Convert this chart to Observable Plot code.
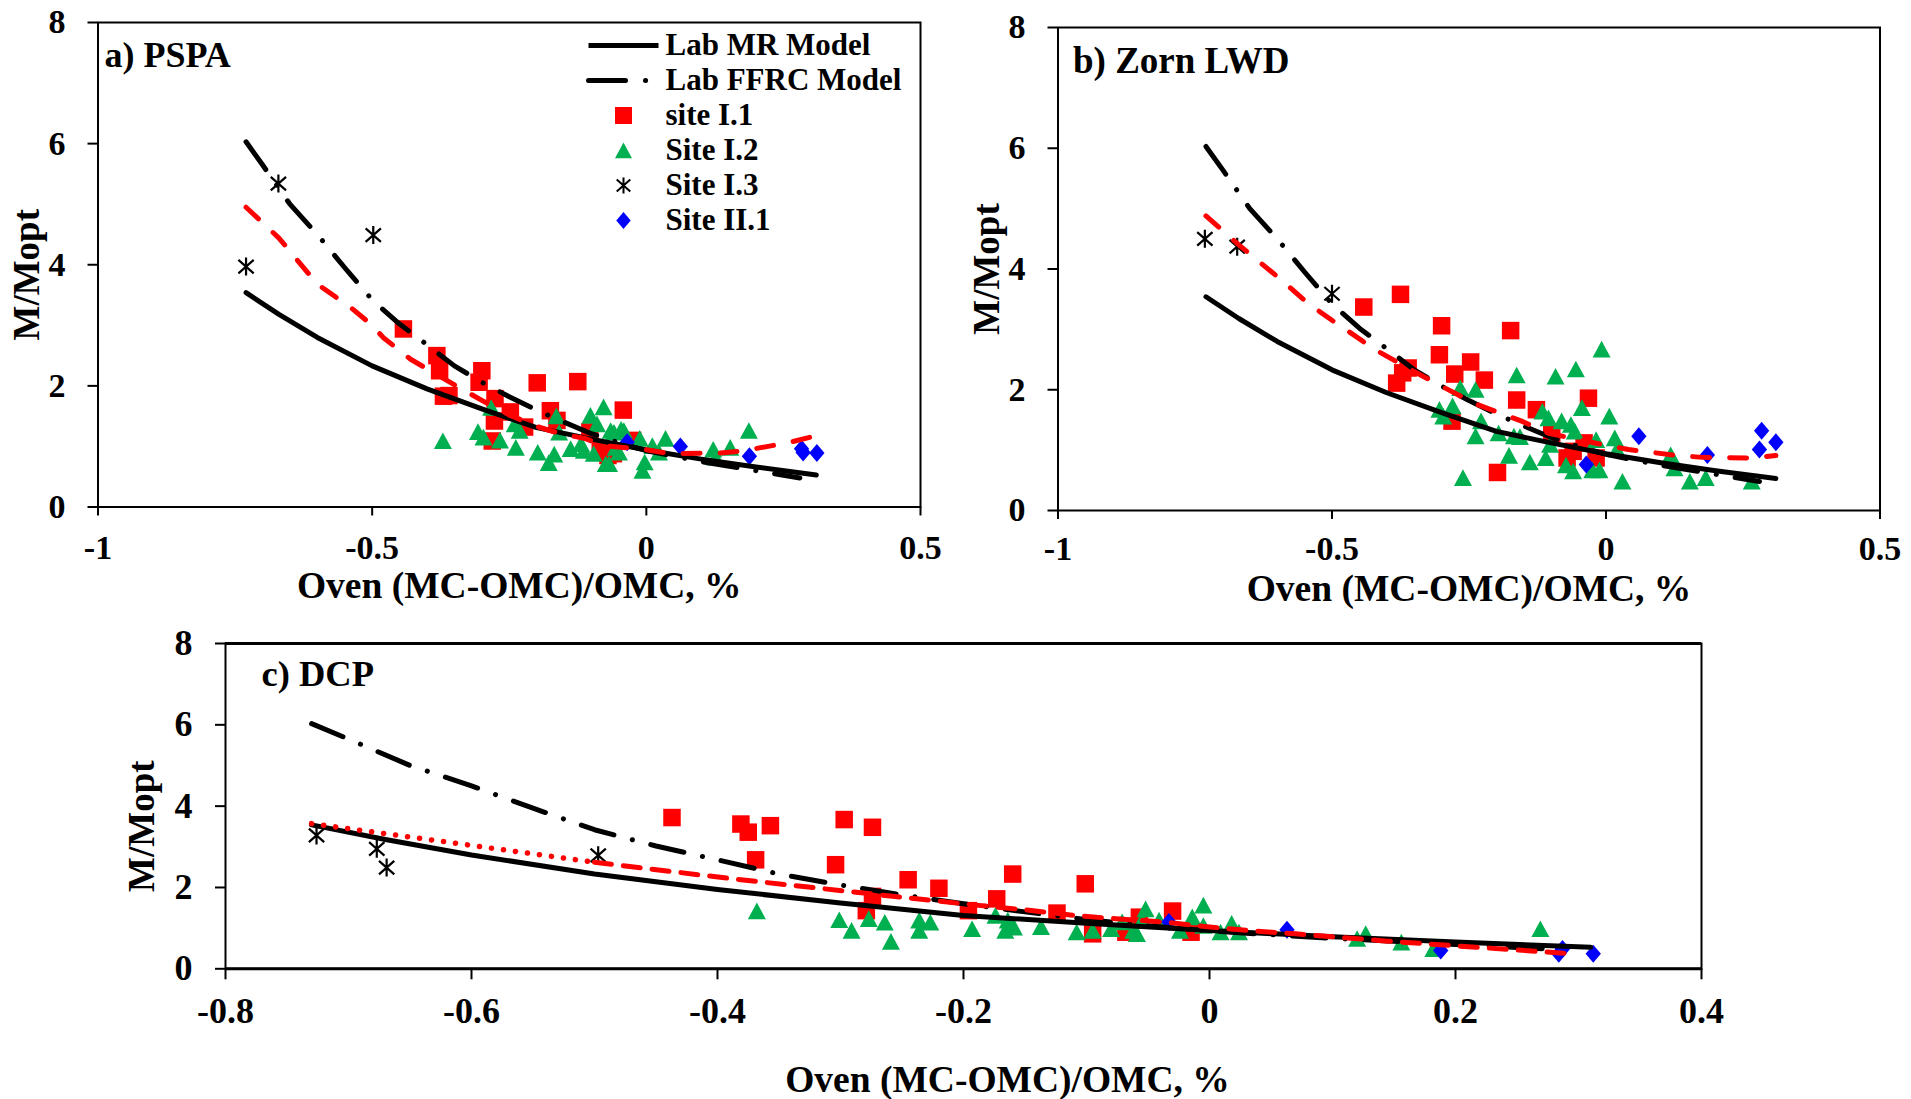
<!DOCTYPE html>
<html>
<head>
<meta charset="utf-8">
<script src="https://cdn.jsdelivr.net/npm/d3@7"></script>
<script src="https://cdn.jsdelivr.net/npm/@observablehq/plot@0.6"></script>
<style>
  body { margin: 0; background: #fff; }
  #root { position: relative; width: 1911px; height: 1099px; overflow: hidden; background: #fff; }
  .panel { position: absolute; }
  .panel svg { background: transparent !important; max-width: none !important; overflow: visible; }
</style>
</head>
<body>
<div id="root"></div>
<script>
// ---------------- DATA ----------------
const yTicks = [0, 2, 4, 6, 8];
const xTicksAB = [-1, -0.5, 0, 0.5];
const xTicksC = [-0.8, -0.6, -0.4, -0.2, 0, 0.2, 0.4];
const panelTitles = ["a) PSPA", "b) Zorn LWD", "c) DCP"];
const xAxisTitle = "Oven (MC-OMC)/OMC, %";
const yAxisTitle = "M/Mopt";
const legendItems = ["Lab MR Model", "Lab FFRC Model", "site I.1", "Site I.2", "Site I.3", "Site II.1"];

// Lab models (same in all panels)
const mrModel = [[-0.73,3.54],[-0.67,3.18],[-0.6,2.8],[-0.5,2.33],[-0.4,1.95],[-0.3,1.62],[-0.2,1.31],[-0.1,1.12],[0,0.94],[0.1,0.79],[0.2,0.66],[0.31,0.53]];
const ffrcModel = [[-0.73,6.03],[-0.7,5.65],[-0.65,5.0],[-0.6,4.5],[-0.55,3.95],[-0.5,3.42],[-0.45,3.02],[-0.4,2.68],[-0.35,2.33],[-0.3,2.06],[-0.25,1.82],[-0.2,1.6],[-0.15,1.4],[-0.1,1.21],[-0.05,1.06],[0,0.93],[0.1,0.75],[0.2,0.6],[0.28,0.48]];

// Panel a) PSPA
const siteI1_a = [[-0.443,2.94],[-0.382,2.50],[-0.377,2.25],[-0.37,1.83],[-0.36,1.84],[-0.30,2.25],[-0.305,2.06],[-0.276,1.79],[-0.248,1.57],[-0.277,1.42],[-0.281,1.09],[-0.222,1.32],[-0.199,2.05],[-0.175,1.59],[-0.163,1.43],[-0.125,2.07],[-0.103,1.24],[-0.084,0.96],[-0.07,0.85],[-0.042,1.60],[-0.025,1.10],[-0.06,0.88]];
const siteI2_a = [[-0.371,1.09],[-0.307,1.24],[-0.297,1.15],[-0.283,1.64],[-0.267,1.10],[-0.240,1.37],[-0.238,0.98],[-0.231,1.26],[-0.198,0.90],[-0.178,0.73],[-0.168,0.87],[-0.164,1.50],[-0.159,1.23],[-0.138,0.96],[-0.119,1.04],[-0.114,0.93],[-0.102,1.51],[-0.096,0.88],[-0.090,1.37],[-0.078,1.65],[-0.074,0.71],[-0.068,0.71],[-0.065,1.26],[-0.059,1.23],[-0.056,0.98],[-0.050,0.90],[-0.046,1.28],[-0.041,1.26],[-0.012,1.13],[-0.007,0.60],[-0.003,0.74],[0.011,1.01],[0.023,0.90],[0.035,1.13],[0.122,0.95],[0.126,0.82],[0.153,0.98],[0.187,1.26]];
const siteI3_a = [[-0.730,3.97],[-0.671,5.34],[-0.498,4.49]];
const siteII1_a = [[-0.035,1.07],[0.062,1.0],[0.188,0.84],[0.283,0.96],[0.286,0.90],[0.311,0.89]];
const redFit_a = [[-0.73,4.95],[-0.67,4.44],[-0.6,3.68],[-0.54,3.30],[-0.5,3.0],[-0.48,2.80],[-0.43,2.44],[-0.36,2.07],[-0.3,1.76],[-0.25,1.52],[-0.2,1.33],[-0.157,1.21],[-0.111,1.13],[-0.077,1.01],[-0.011,0.96],[0.044,0.88],[0.135,0.89],[0.178,0.93],[0.258,1.06],[0.307,1.17]];

// Panel b) Zorn LWD
const siteI1_b = [[-0.442,3.37],[-0.375,3.58],[-0.300,3.06],[-0.174,2.98],[-0.304,2.58],[-0.247,2.46],[-0.361,2.36],[-0.371,2.28],[-0.382,2.11],[-0.276,2.26],[-0.222,2.16],[-0.163,1.83],[-0.032,1.86],[-0.127,1.67],[-0.281,1.48],[-0.099,1.28],[-0.04,1.12],[-0.06,0.98],[-0.018,0.87],[-0.198,0.63],[-0.071,0.87]];
const siteI2_b = [[-0.008,2.67],[-0.055,2.34],[-0.092,2.22],[-0.163,2.24],[-0.266,2.03],[-0.238,2.0],[-0.044,1.70],[0.006,1.56],[-0.304,1.67],[-0.280,1.73],[-0.297,1.56],[-0.116,1.64],[-0.105,1.53],[-0.081,1.48],[-0.064,1.42],[-0.228,1.48],[-0.238,1.23],[-0.196,1.28],[-0.168,1.23],[-0.157,1.22],[-0.057,1.31],[-0.018,1.17],[0.016,1.20],[0.020,1.01],[-0.102,1.09],[-0.177,0.91],[-0.139,0.80],[-0.110,0.87],[-0.073,0.75],[-0.060,0.65],[-0.012,0.67],[-0.025,0.67],[0.030,0.48],[-0.261,0.54],[0.118,0.92],[0.125,0.70],[0.153,0.48],[0.182,0.54],[0.266,0.48]];
const siteI3_b = [[-0.732,4.50],[-0.673,4.37],[-0.500,3.59]];
const siteII1_b = [[0.060,1.23],[-0.036,0.76],[0.185,0.92],[0.284,1.32],[0.310,1.13],[0.280,1.01]];
const redFit_b = [[-0.73,4.88],[-0.67,4.40],[-0.59,3.80],[-0.545,3.44],[-0.5,3.15],[-0.475,3.0],[-0.426,2.69],[-0.36,2.35],[-0.3,2.06],[-0.242,1.78],[-0.154,1.48],[-0.105,1.28],[-0.011,1.10],[0.041,1.01],[0.131,0.91],[0.177,0.88],[0.261,0.87],[0.31,0.91]];

// Panel c) DCP
const siteI1_c = [[-0.437,3.72],[-0.381,3.56],[-0.375,3.36],[-0.357,3.52],[-0.297,3.67],[-0.274,3.48],[-0.369,2.68],[-0.304,2.56],[-0.245,2.19],[-0.220,1.98],[-0.274,1.78],[-0.279,1.43],[-0.173,1.72],[-0.160,2.33],[-0.196,1.43],[-0.124,1.37],[-0.101,2.09],[-0.095,0.86],[-0.030,1.42],[-0.057,1.27],[-0.015,0.90],[-0.068,0.90]];
const siteI2_c = [[-0.368,1.42],[-0.301,1.20],[-0.291,0.94],[-0.277,1.23],[-0.264,1.14],[-0.259,0.67],[-0.236,1.19],[-0.227,1.14],[-0.236,0.94],[-0.193,0.98],[-0.174,1.31],[-0.164,1.19],[-0.159,1.02],[-0.166,0.94],[-0.137,1.03],[-0.108,0.90],[-0.095,0.94],[-0.080,0.98],[-0.071,1.15],[-0.062,0.94],[-0.052,1.47],[-0.055,1.18],[-0.059,0.86],[-0.041,1.19],[-0.024,0.94],[-0.014,1.27],[-0.005,1.56],[-0.005,1.06],[0.009,0.90],[0.018,1.11],[0.024,0.90],[0.12,0.74],[0.127,0.86],[0.156,0.65],[0.182,0.49],[0.269,0.98]];
const siteI3_c = [[-0.726,3.28],[-0.677,2.95],[-0.669,2.49],[-0.497,2.79]];
const siteII1_c = [[-0.033,1.15],[0.063,0.96],[0.188,0.45],[0.287,0.49],[0.284,0.37],[0.312,0.37]];
const redFitDotted_c = [[-0.73,3.57],[-0.64,3.2],[-0.5,2.62]];
const redFitDashed_c = [[-0.5,2.62],[-0.387,2.21],[-0.314,1.97],[-0.244,1.74],[-0.188,1.56],[-0.15,1.45],[-0.109,1.31],[-0.076,1.23],[-0.037,1.15],[0,1.03],[0.032,0.94],[0.07,0.86],[0.145,0.68],[0.217,0.53],[0.29,0.38]];

// ---------------- STYLE ----------------
const FONT = "'Liberation Serif','Times New Roman',serif";
const RED = "#FF0000", GREEN = "#00B050", BLUE = "#0000FF";
const sqSym = {draw(c, s) { const r = Math.sqrt(s / Math.PI); c.rect(-r, -r, 2 * r, 2 * r); }};
const triSym = {draw(c, s) { const r = Math.sqrt(s / Math.PI); c.moveTo(0, -0.95 * r); c.lineTo(r, 0.9 * r); c.lineTo(-r, 0.9 * r); c.closePath(); }};
const diaSym = {draw(c, s) { const r = Math.sqrt(s / Math.PI); c.moveTo(0, -r); c.lineTo(0.85 * r, 0); c.lineTo(0, r); c.lineTo(-0.85 * r, 0); c.closePath(); }};
const astSym = {draw(c, s) { const r = Math.sqrt(s / Math.PI); c.moveTo(0, -r); c.lineTo(0, r); c.moveTo(-0.85 * r, -0.75 * r); c.lineTo(0.85 * r, 0.75 * r); c.moveTo(-0.85 * r, 0.75 * r); c.lineTo(0.85 * r, -0.75 * r); }};
const X = d => d[0], Y = d => d[1];

function pointMarks(s1, s2, s3, s4) {
  return [
    Plot.dot(s1, {x: X, y: Y, symbol: sqSym, r: 8.75, fill: RED}),
    Plot.dot(s2, {x: X, y: Y, symbol: triSym, r: 9, fill: GREEN}),
    Plot.dot(s3, {x: X, y: Y, symbol: astSym, r: 9, fill: "none", stroke: "black", strokeWidth: 2.2}),
    Plot.dot(s4, {x: X, y: Y, symbol: diaSym, r: 9, fill: BLUE})
  ];
}
function modelMarks() {
  return [
    Plot.line(mrModel, {x: X, y: Y, stroke: "black", strokeWidth: 5}),
    Plot.line(ffrcModel, {x: X, y: Y, stroke: "black", strokeWidth: 5, strokeDasharray: "34,19,0.1,19", strokeLinecap: "round"})
  ];
}

function place(node, left, top, w, h) {
  const div = document.createElement("div");
  div.className = "panel";
  div.style.left = left + "px"; div.style.top = top + "px";
  div.style.width = w + "px"; div.style.height = h + "px";
  div.appendChild(node);
  document.getElementById("root").appendChild(div);
}

function makePanel(cfg) {
  return Plot.plot({
    width: cfg.width, height: cfg.height,
    marginLeft: cfg.m[0], marginTop: cfg.m[1], marginRight: cfg.m[2], marginBottom: cfg.m[3],
    x: {domain: cfg.xDomain},
    y: {domain: [0, 8]},
    style: {fontFamily: FONT, fontWeight: "bold", background: "transparent", color: "black"},
    marks: [
      Plot.frame({stroke: "black", strokeWidth: 2}),
      ...(cfg.thickTB ? [Plot.ruleY([0, 8], {stroke: "black", strokeWidth: 3})] : []),
      Plot.axisX({ticks: cfg.xTicks, tickFormat: d => String(d), tickSize: cfg.xTickSize, tickPadding: cfg.xTickPad, fontSize: cfg.tickFont, strokeWidth: 2, label: null}),
      Plot.axisY({ticks: yTicks, tickFormat: d => String(d), tickSize: 10, tickPadding: cfg.yTickPad, fontSize: cfg.tickFont, strokeWidth: 2, label: null}),
      ...pointMarks(...cfg.sites),
      ...modelMarks(),
      ...cfg.redMarks,
      Plot.text([cfg.title], {text: d => d, frameAnchor: "top-left", textAnchor: "start", lineAnchor: "middle", dx: cfg.titleD[0], dy: cfg.titleD[1], fontSize: cfg.titleFont}),
      Plot.text([xAxisTitle], {text: d => d, frameAnchor: "bottom", textAnchor: "middle", lineAnchor: "middle", dx: cfg.xTitleD[0], dy: cfg.xTitleD[1], fontSize: 37.5}),
      Plot.text([yAxisTitle], {text: d => d, frameAnchor: "left", rotate: -90, textAnchor: "middle", lineAnchor: "middle", dx: cfg.yTitleD[0], dy: cfg.yTitleD[1], fontSize: 37})
    ]
  });
}

// Panel a
place(makePanel({
  width: 950, height: 600, m: [97.5, 22, 30, 93.5],
  xDomain: [-1, 0.5], xTicks: xTicksAB, xTickSize: 9, xTickPad: 19, yTickPad: 22.5, tickFont: 34,
  sites: [siteI1_a, siteI2_a, siteI3_a, siteII1_a],
  redMarks: [Plot.line(redFit_a, {x: X, y: Y, stroke: RED, strokeWidth: 5, strokeDasharray: "17,20", strokeLinecap: "round"})],
  title: panelTitles[0], titleD: [6.5, 33], titleFont: 36,
  xTitleD: [10, 79], yTitleD: [-70.5, 10]
}), 0, 0, 950, 600);

// Panel b
place(makePanel({
  width: 961, height: 600, m: [107.5, 27, 31.5, 90],
  xDomain: [-1, 0.5], xTicks: xTicksAB, xTickSize: 9, xTickPad: 16, yTickPad: 22.5, tickFont: 34,
  sites: [siteI1_b, siteI2_b, siteI3_b, siteII1_b],
  redMarks: [Plot.line(redFit_b, {x: X, y: Y, stroke: RED, strokeWidth: 5, strokeDasharray: "17,20", strokeLinecap: "round"})],
  title: panelTitles[1], titleD: [15, 34], titleFont: 37,
  xTitleD: [0, 78], yTitleD: [-70.5, 0]
}), 950, 0, 961, 600);

// Panel c
place(makePanel({
  width: 1911, height: 499, m: [225, 43, 210, 130.7],
  xDomain: [-0.8, 0.4], xTicks: xTicksC, xTickSize: 11, xTickPad: 18, yTickPad: 23, tickFont: 36,
  sites: [siteI1_c, siteI2_c, siteI3_c, siteII1_c], thickTB: true,
  redMarks: [
    Plot.line(redFitDotted_c, {x: X, y: Y, stroke: RED, strokeWidth: 5.5, strokeDasharray: "0.1,12", strokeLinecap: "round"}),
    Plot.line(redFitDashed_c, {x: X, y: Y, stroke: RED, strokeWidth: 5, strokeDasharray: "17,12", strokeLinecap: "round"})
  ],
  title: panelTitles[2], titleD: [36, 31], titleFont: 36.5,
  xTitleD: [44, 111], yTitleD: [-83, 20]
}), 0, 600, 1911, 499);

// Legend (inside panel a)
const legend = Plot.plot({
  width: 335, height: 220, margin: 0,
  x: {domain: [0, 1], range: [8, 78], axis: null},
  y: {type: "point", domain: legendItems, range: [23, 202], padding: 0, axis: null},
  style: {fontFamily: FONT, fontWeight: "bold", background: "transparent", color: "black"},
  marks: [
    Plot.link([legendItems[0]], {x1: 0, x2: 1, y1: d => d, y2: d => d, stroke: "black", strokeWidth: 5}),
    Plot.link([legendItems[1]], {x1: 0, x2: 1, y1: d => d, y2: d => d, stroke: "black", strokeWidth: 5, strokeDasharray: "37,20,0.1,40", strokeLinecap: "round"}),
    Plot.dot([legendItems[2]], {x: () => 0.5, y: d => d, symbol: sqSym, r: 8.5, fill: RED}),
    Plot.dot([legendItems[3]], {x: () => 0.5, y: d => d, symbol: triSym, r: 8.5, fill: GREEN}),
    Plot.dot([legendItems[4]], {x: () => 0.5, y: d => d, symbol: astSym, r: 8, fill: "none", stroke: "black", strokeWidth: 2}),
    Plot.dot([legendItems[5]], {x: () => 0.5, y: d => d, symbol: diaSym, r: 8.5, fill: BLUE}),
    Plot.text(legendItems, {x: () => 1, y: d => d, text: d => d, dx: 7, textAnchor: "start", lineAnchor: "middle", fontSize: 31})
  ]
});
place(legend, 580, 20, 335, 220);
</script>
</body>
</html>
